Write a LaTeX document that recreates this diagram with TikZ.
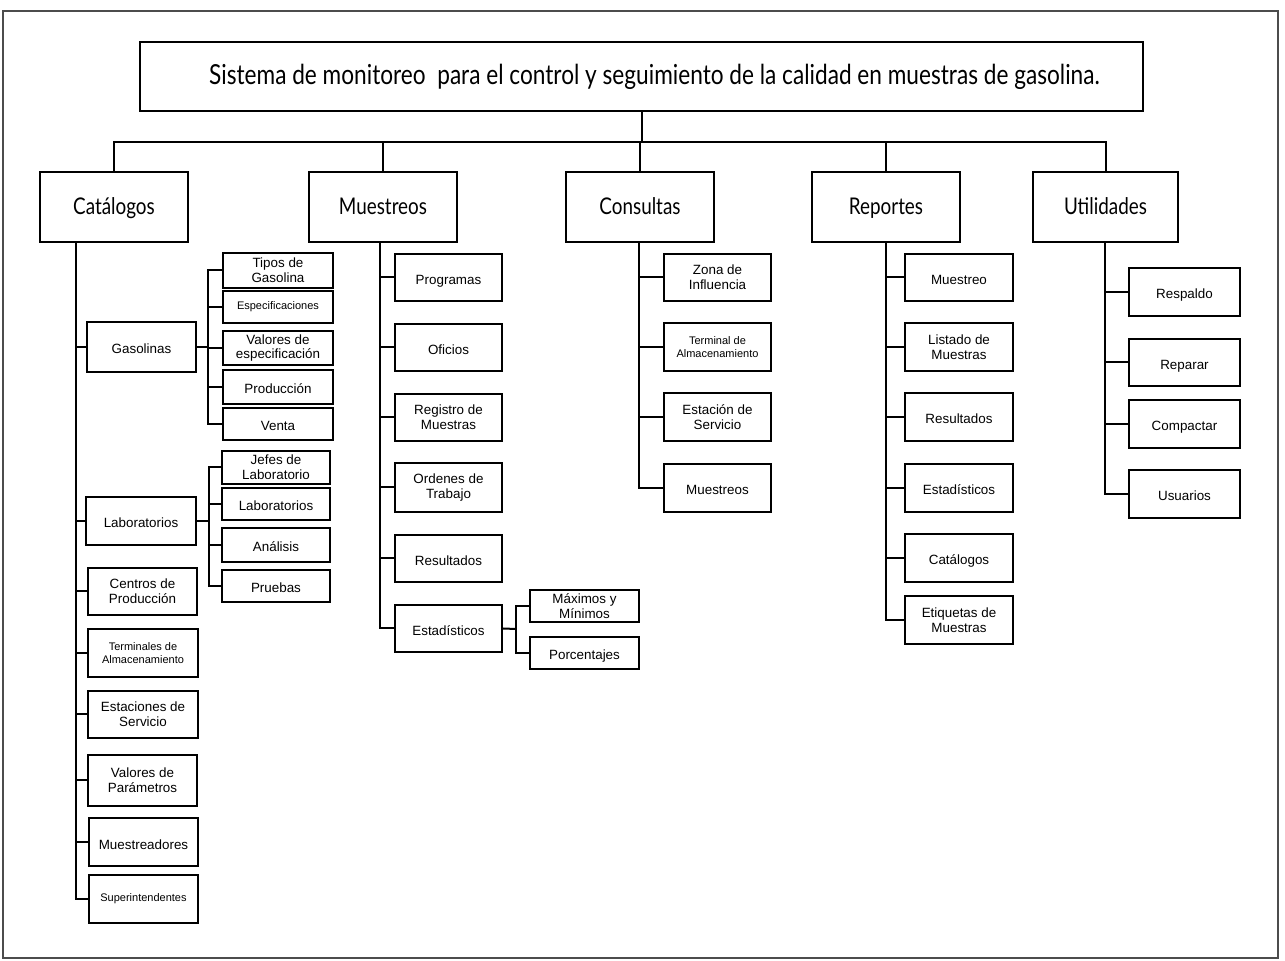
\documentclass[tikz,border=0pt]{standalone}
\usepackage{fontspec}
\setmainfont{Liberation Sans}
\newfontfamily\headfont[FakeStretch=0.82]{Lato}

\tikzset{
  px/.style={x=0.5pt,y=-0.5pt},
  frame/.style={draw=black!70,line width=1.3pt},
  topbox/.style={draw,line width=1.1pt,inner sep=0pt,align=center,
    text height=0.95em,text depth=0.18em,
    font=\headfont\fontsize{13.8}{15}\selectfont},
  mainbox/.style={draw,line width=1.1pt,inner sep=0pt,align=center,
    text height=0.95em,text depth=0.18em,
    font=\headfont\fontsize{11.5}{13}\selectfont},
  subbox/.style={draw,line width=1.1pt,inner sep=0pt,align=center,
    font=\fontsize{6.7}{7.3}\selectfont},
  onebox/.style={subbox,text height=0.9em,text depth=0.2em},
  tinybox/.style={subbox,font=\fontsize{5.5}{6.4}\selectfont},
  link/.style={line width=1pt}
}

% box from its corner coordinates: style, name, x1, y1, x2, y2, text
\newcommand\mkbox[7]{%
  \pgfmathsetmacro\bxw{(#5-#3)*0.5}%
  \pgfmathsetmacro\bxh{(#6-#4)*0.5}%
  \node[#1,minimum width=\bxw pt,minimum height=\bxh pt]
    (#2) at ({(#3+#5)/2},{(#4+#6)/2}) {#7};}

\begin{document}
\begin{tikzpicture}[px]
\useasboundingbox (0,0) rectangle (1285,961);
\draw[frame] (3,11) rectangle (1278,958);

% title and first level
\mkbox{topbox}{title}{140}{42}{1143}{111}
  {\hspace*{13pt}Sistema de monitoreo\ \ para el control y seguimiento de la calidad en muestras de gasolina.}
\mkbox{mainbox}{cat}{40}{172}{188}{242}{Catálogos}
\mkbox{mainbox}{mue}{309}{172}{457}{242}{Muestreos}
\mkbox{mainbox}{con}{566}{172}{714}{242}{Consultas}
\mkbox{mainbox}{rep}{812}{172}{960}{242}{Reportes}
\mkbox{mainbox}{uti}{1033}{172}{1178}{242}{Utilidades}

\coordinate (bar) at (640,142);
\draw[link] (title.south) -- (title.south |- bar);
\draw[link] (cat.north) -- (cat.north |- bar) -- (uti.north |- bar) -- (uti.north);
\draw[link] (mue.north) -- (mue.north |- bar);
\draw[link] (con.north) -- (con.north |- bar);
\draw[link] (rep.north) -- (rep.north |- bar);

% Catalogos branch
\mkbox{onebox}{gas}{87}{322}{196}{372}{Gasolinas}
\mkbox{onebox}{lab}{86}{497}{196}{545}{Laboratorios}
\mkbox{subbox}{cen}{88}{568}{197}{615}{Centros de\\Producción}
\mkbox{tinybox}{ter}{88}{629}{198}{677}{Terminales de\\Almacenamiento}
\mkbox{subbox}{est}{88}{691}{198}{738}{Estaciones de\\Servicio}
\mkbox{subbox}{val}{88}{755}{197}{806}{Valores de\\Parámetros}
\mkbox{onebox}{mtr}{89}{818}{198}{866}{Muestreadores}
\mkbox{tinybox}{sup}{89}{875}{198}{923}{Superintendentes}

\coordinate (catsp) at (76,242);
\draw[link] (catsp) |- (sup.west);
\foreach \n in {gas,lab,cen,ter,est,val,mtr}
  \draw[link] (\n.west) -- (\n.west -| catsp);

% Gasolinas sub-branch
\mkbox{subbox}{tip}{223}{253}{333}{288}{Tipos de\\Gasolina}
\mkbox{tinybox}{esp}{223}{291}{333}{323}{Especificaciones}
\mkbox{subbox}{vae}{223}{331}{333}{365}{Valores de\\especificación}
\mkbox{onebox}{pro}{223}{370}{333}{404}{Producción}
\mkbox{onebox}{ven}{223}{408}{333}{440}{Venta}

\coordinate (gassp) at (208,347);
\draw[link] (gas.east) -- (gassp);
\draw[link] (tip.west) -| (gassp) |- (ven.west);
\foreach \n in {esp,vae,pro}
  \draw[link] (\n.west) -- (\n.west -| gassp);

% Laboratorios sub-branch
\mkbox{subbox}{jef}{222}{451}{330}{484}{Jefes de\\Laboratorio}
\mkbox{onebox}{lbs}{222}{488}{330}{520}{Laboratorios}
\mkbox{onebox}{ana}{222}{528}{330}{562}{Análisis}
\mkbox{onebox}{pru}{222}{570}{330}{602}{Pruebas}

\coordinate (labsp) at (209,521);
\draw[link] (lab.east) -- (labsp);
\draw[link] (jef.west) -| (labsp) |- (pru.west);
\foreach \n in {lbs,ana}
  \draw[link] (\n.west) -- (\n.west -| labsp);

% Muestreos branch
\mkbox{onebox}{prg}{395}{254}{502}{301}{Programas}
\mkbox{onebox}{ofi}{395}{324}{502}{371}{Oficios}
\mkbox{subbox}{reg}{395}{394}{502}{441}{Registro de\\Muestras}
\mkbox{subbox}{ord}{395}{463}{502}{512}{Ordenes de\\Trabajo}
\mkbox{onebox}{res}{395}{535}{502}{582}{Resultados}
\mkbox{onebox}{eds}{395}{605}{502}{652}{Estadísticos}

\coordinate (muesp) at (380,242);
\draw[link] (muesp) |- (eds.west);
\foreach \n in {prg,ofi,reg,ord,res}
  \draw[link] (\n.west) -- (\n.west -| muesp);

\mkbox{subbox}{max}{530}{590}{639}{622}{Máximos y\\Mínimos}
\mkbox{onebox}{por}{530}{637}{639}{669}{Porcentajes}

\coordinate (edssp) at (516,629);
\draw[link] (eds.east) -- (edssp);
\draw[link] (max.west) -| (edssp) |- (por.west);

% Consultas branch
\mkbox{subbox}{zon}{664}{254}{771}{301}{Zona de\\Influencia}
\mkbox{tinybox}{tal}{664}{323}{771}{371}{Terminal de\\Almacenamiento}
\mkbox{subbox}{eas}{664}{393}{771}{441}{Estación de\\Servicio}
\mkbox{onebox}{cmu}{664}{464}{771}{512}{Muestreos}

\coordinate (consp) at (639,242);
\draw[link] (consp) |- (cmu.west);
\foreach \n in {zon,tal,eas}
  \draw[link] (\n.west) -- (\n.west -| consp);

% Reportes branch
\mkbox{onebox}{rmu}{905}{254}{1013}{301}{Muestreo}
\mkbox{subbox}{lis}{905}{323}{1013}{371}{Listado de\\Muestras}
\mkbox{onebox}{rre}{905}{393}{1013}{441}{Resultados}
\mkbox{onebox}{res2}{905}{464}{1013}{512}{Estadísticos}
\mkbox{onebox}{rca}{905}{534}{1013}{582}{Catálogos}
\mkbox{subbox}{eti}{905}{596}{1013}{644}{Etiquetas de\\Muestras}

\coordinate (repsp) at (886,242);
\draw[link] (repsp) |- (eti.west);
\foreach \n in {rmu,lis,rre,res2,rca}
  \draw[link] (\n.west) -- (\n.west -| repsp);

% Utilidades branch
\mkbox{onebox}{rsp}{1129}{268}{1240}{316}{Respaldo}
\mkbox{onebox}{rpr}{1129}{339}{1240}{386}{Reparar}
\mkbox{onebox}{cmp}{1129}{400}{1240}{448}{Compactar}
\mkbox{onebox}{usu}{1129}{470}{1240}{518}{Usuarios}

\coordinate (utisp) at (1105,242);
\draw[link] (utisp) |- (usu.west);
\foreach \n in {rsp,rpr,cmp}
  \draw[link] (\n.west) -- (\n.west -| utisp);
\end{tikzpicture}
\end{document}
